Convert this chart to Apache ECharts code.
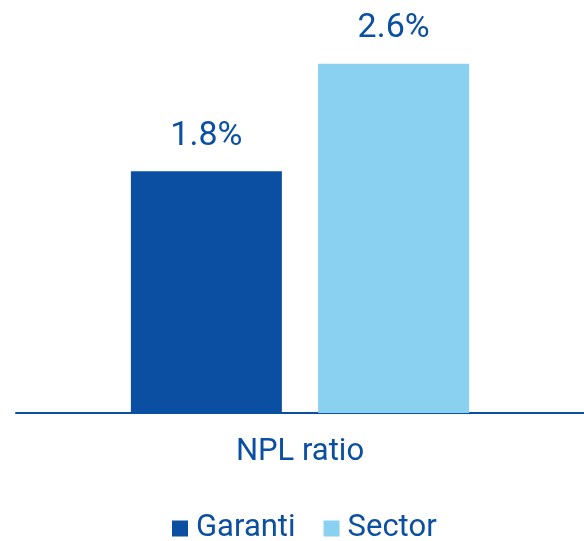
<!DOCTYPE html>
<html>
<head>
<meta charset="utf-8">
<script src="https://cdn.jsdelivr.net/npm/echarts@6/dist/echarts.min.js"></script>
<style>
  html, body { margin: 0; padding: 0; background: #fff; }
  #chart { width: 584px; height: 541px; }
</style>
</head>
<body>
<div id="chart"></div>
<script>
// NPL ratio: Garanti vs Sector
var categories = ['NPL ratio'];
var seriesNames = ['Garanti', 'Sector'];
var garantiValues = [1.8];
var sectorValues = [2.6];

var darkBlue = '#0b4fa3';
var lightBlue = '#89d0f1';

var myChart = echarts.init(document.getElementById('chart'));

var option = {
    textStyle: { fontFamily: 'Roboto' },
    grid: {
        left: 16,
        right: 0,
        top: 10,
        bottom: 128
    },
    legend: {
        bottom: -8,
        left: 167,
        data: seriesNames,
        icon: 'rect',
        itemWidth: 16,
        itemHeight: 16,
        itemGap: 28,
        textStyle: { color: darkBlue, fontSize: 31, padding: [0, 0, 0, 3] }
    },
    xAxis: {
        type: 'category',
        data: categories,
        axisLine: { lineStyle: { color: darkBlue, width: 2 } },
        axisTick: { show: false },
        axisLabel: { color: darkBlue, fontSize: 31, margin: 24 }
    },
    yAxis: {
        type: 'value',
        min: 0,
        max: 3,
        show: false,
        splitLine: { show: false }
    },
    series: [{
        name: 'Garanti',
        type: 'bar',
        data: garantiValues,
        barWidth: 151,
        barGap: '24%',
        itemStyle: { color: darkBlue },
        label: {
            show: true,
            position: 'top',
            distance: 18,
            color: darkBlue,
            fontSize: 34,
            formatter: function (p) { return p.value.toFixed(1) + '%'; }
        }
    }, {
        name: 'Sector',
        type: 'bar',
        data: sectorValues,
        barWidth: 151,
        itemStyle: { color: lightBlue },
        label: {
            show: true,
            position: 'top',
            distance: 18,
            color: darkBlue,
            fontSize: 34,
            formatter: function (p) { return p.value.toFixed(1) + '%'; }
        }
    }]
};

myChart.setOption(option);
</script>
</body>
</html>
